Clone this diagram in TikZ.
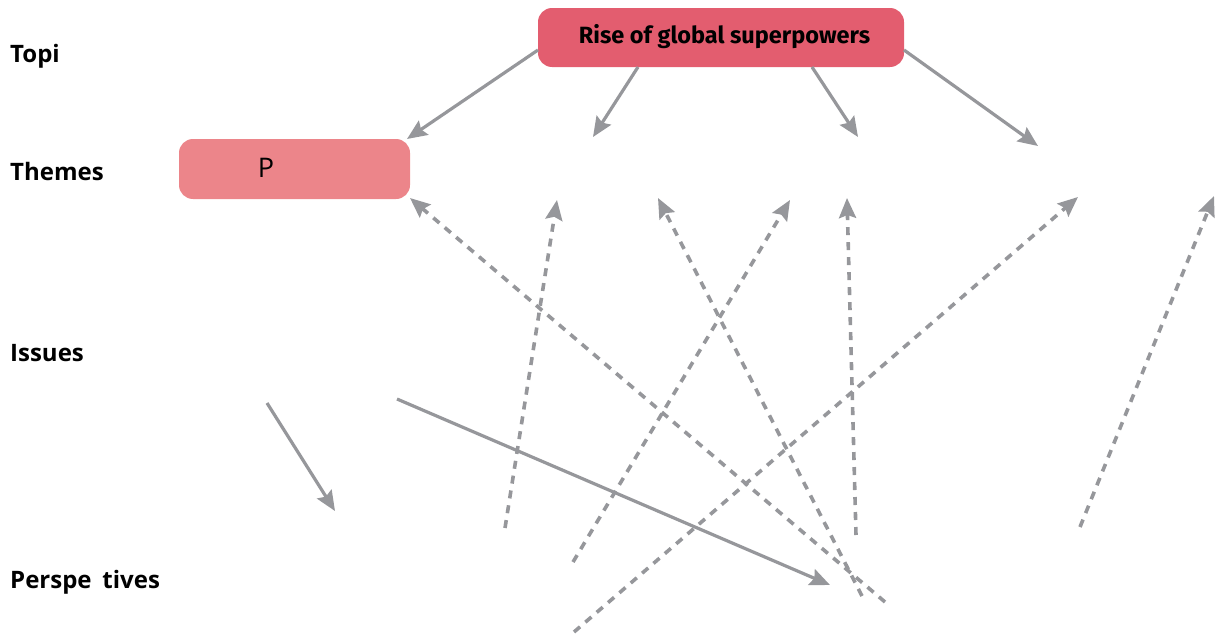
\documentclass[tikz,border=0pt]{standalone}
\usepackage{fontspec}
\setmainfont{Open Sans}
\newfontfamily\nodefont{Fira Sans}
\usetikzlibrary{arrows.meta}
\definecolor{topred}{HTML}{E35D6F}
\definecolor{themepink}{HTML}{EC858A}
\definecolor{arrowgray}{HTML}{96979B}
\tikzset{
  rowlabel/.style={anchor=base west, font=\fontsize{24}{28}\selectfont\bfseries, inner sep=0pt},
  topbox/.style={fill=topred, rounded corners=14pt, minimum width=366pt, minimum height=59pt, inner sep=0pt, font=\nodefont\fontsize{23.5}{26}\selectfont\bfseries},
  themebox/.style={fill=themepink, rounded corners=14pt, minimum width=231pt, minimum height=60pt, inner sep=0pt},
  link/.style={draw=arrowgray, line width=3.2pt, -{Stealth[length=20pt, width=17pt, inset=3pt]}},
  dlink/.style={link, line width=3.6pt, dash pattern=on 8pt off 7pt}
}
\begin{document}
\begin{tikzpicture}[x=1pt,y=-1pt]
\useasboundingbox (0,0) rectangle (1216,637);
% row labels
\node[rowlabel] (ltopic) at (10,62.5) {Topi};
\node[rowlabel] (lthemes) at (10,180.5) {Themes};
\node[rowlabel] (lissues) at (10,361.5) {Issues};
\node[rowlabel] (lpersp) at (10,588) {Perspe\hspace{0.45em}tives};
% nodes
\node[topbox] (top) at (721,37.5) {};
\node[anchor=base, inner sep=0pt, font=\nodefont\fontsize{23.5}{26}\selectfont\bfseries] (toptext) at (724.5,43.5) {Rise of global superpowers};
\node[themebox] (themeP) at (294.5,169) {};
\node[anchor=base, inner sep=0pt, font=\fontsize{27}{30}\selectfont] (ptext) at (266,177.5) {P};
% coordinates
\coordinate (t2) at (593,137);
\coordinate (t3) at (858,137);
\coordinate (t4) at (1038,146);
\coordinate (i1s) at (267,403);
\coordinate (i1e) at (335,511);
\coordinate (i2s) at (397,399);
\coordinate (i2e) at (830,585);
\coordinate (da) at (885,602);
\coordinate (db) at (505,528);
\coordinate (dbe) at (557,200);
\coordinate (dc) at (862,596);
\coordinate (dce) at (658,198);
\coordinate (dd) at (573,562);
\coordinate (dde) at (790,200);
\coordinate (de) at (856,535);
\coordinate (dee) at (847,198);
\coordinate (df) at (574,632);
\coordinate (dfe) at (1078,197);
\coordinate (dg) at (1080,527);
\coordinate (dge) at (1214,196);
% solid arrows
\draw[link] (538,50) -- (407,139);
\draw[link] (638,67) -- (t2);
\draw[link] (812,67) -- (t3);
\draw[link] (904,50) -- (t4);
\draw[link] (i1s) -- (i1e);
\draw[link] (i2s) -- (i2e);
% dashed arrows
\draw[dlink] (da) -- (410,198);
\draw[dlink] (db) -- (dbe);
\draw[dlink] (dc) -- (dce);
\draw[dlink] (dd) -- (dde);
\draw[dlink] (de) -- (dee);
\draw[dlink] (df) -- (dfe);
\draw[dlink] (dg) -- (dge);
\end{tikzpicture}
\end{document}
